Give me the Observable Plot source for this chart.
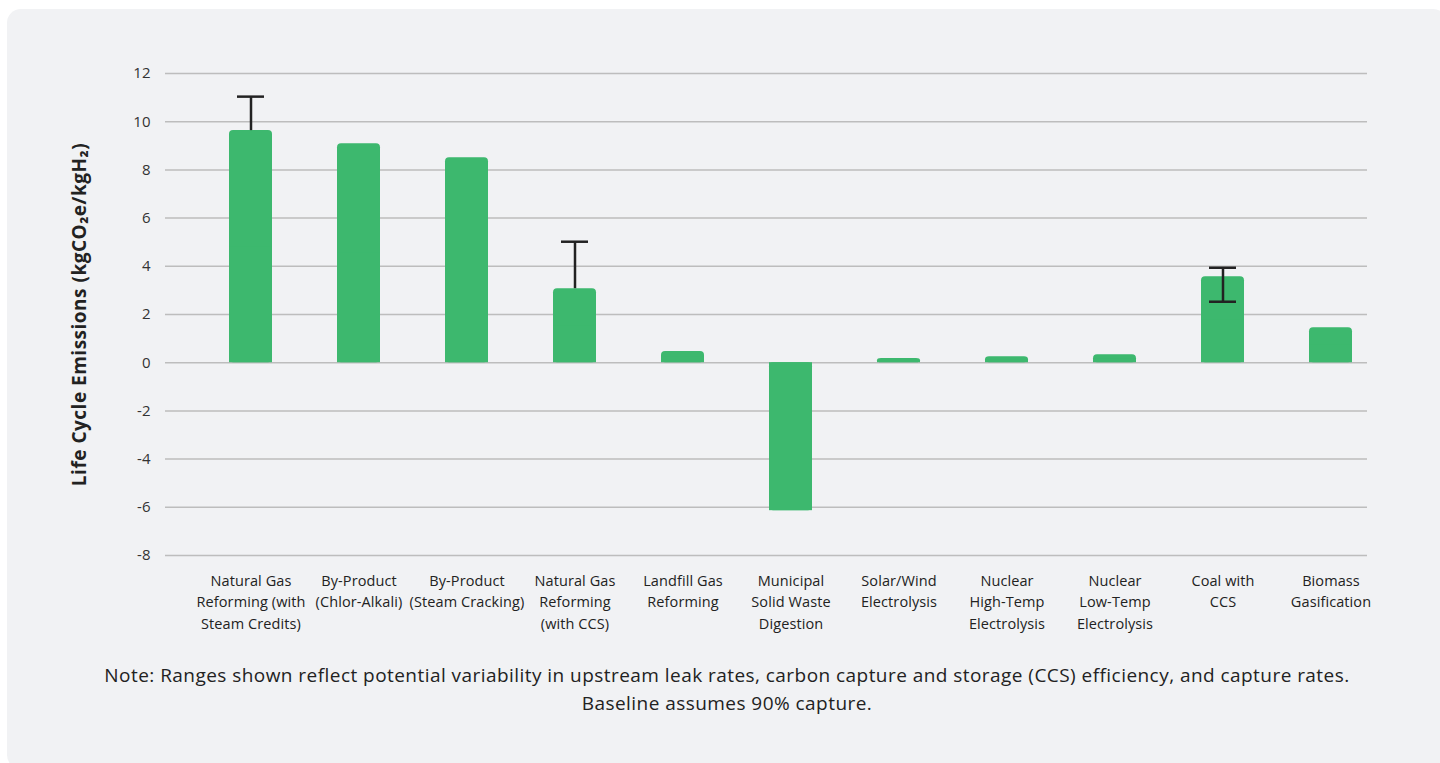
<!DOCTYPE html>
<html>
<head>
<meta charset="utf-8">
<script src="https://cdn.jsdelivr.net/npm/d3@7"></script>
<script src="https://cdn.jsdelivr.net/npm/@observablehq/plot@0.6"></script>
<style>
  html, body { margin: 0; padding: 0; background: #ffffff; }
  body { width: 1440px; height: 763px; overflow: hidden; position: relative; font-family: "Open Sans", sans-serif; }
  #panel { position: absolute; left: 7px; top: 9px; width: 1440px; height: 760px; background: #f1f2f4; border-radius: 14px; }
  #chart { position: absolute; left: 0; top: 0; }
  #chart g[aria-label="x-axis tick label"] text { letter-spacing: 0.1px; }
  #chart g[aria-label="text"] text { letter-spacing: 0.5px; }
  #note { position: absolute; left: 0; top: 661px; width: 1454px; text-align: center; font-size: 19px; letter-spacing: 0.45px; line-height: 28px; color: #222; }
</style>
</head>
<body>
<div id="panel"></div>
<div id="chart"></div>
<div id="note">Note: Ranges shown reflect potential variability in upstream leak rates, carbon capture and storage (CCS) efficiency, and capture rates.<br>Baseline assumes 90% capture.</div>
<script>
const categories = [
  "Natural Gas\nReforming (with\nSteam Credits)",
  "By-Product\n(Chlor-Alkali)",
  "By-Product\n(Steam Cracking)",
  "Natural Gas\nReforming\n(with CCS)",
  "Landfill Gas\nReforming",
  "Municipal\nSolid Waste\nDigestion",
  "Solar/Wind\nElectrolysis",
  "Nuclear\nHigh-Temp\nElectrolysis",
  "Nuclear\nLow-Temp\nElectrolysis",
  "Coal with\nCCS",
  "Biomass\nGasification"
];
const values = [9.63, 9.09, 8.5, 3.07, 0.46, -6.14, 0.17, 0.25, 0.33, 3.57, 1.45];
const errLow = [9.63, null, null, 3.07, null, null, null, null, null, 2.53, null];
const errHigh = [11.04, null, null, 5.02, null, null, null, null, null, 3.94, null];
const yTicks = [-8, -6, -4, -2, 0, 2, 4, 6, 8, 10, 12];
const yLabel = "Life Cycle Emissions (kgCO\u2082e/kgH\u2082)";

const data = categories.map((c, i) => ({cat: c, value: values[i], lo: errLow[i], hi: errHigh[i]}));
const errs = data.filter(d => d.hi != null);
const lowCaps = errs.filter(d => d.lo < d.value);

const green = "#3db86e";
const font = "'Open Sans', sans-serif";
const chart = Plot.plot({
  width: 1440,
  height: 640,
  marginTop: 73,
  marginBottom: 85,
  marginLeft: 165,
  marginRight: 73,
  style: {fontFamily: font, fontSize: "15px", background: "transparent", color: "#333"},
  x: {domain: categories, range: [195, 1387], paddingInner: 0.6, paddingOuter: 0.3, label: null},
  y: {domain: [-8, 12], ticks: yTicks, label: null},
  marks: [
    Plot.gridY(yTicks, {stroke: "#bdbdbd", strokeOpacity: 1, strokeWidth: 1.5}),
    Plot.axisY(yTicks, {tickSize: 0, tickPadding: 15, fontSize: 15, fill: "#333", label: null, tickFormat: d => String(d)}),
    Plot.axisX({tickSize: 0, tickPadding: 15, fontSize: 14.5, fill: "#222", lineHeight: 1.48, label: null}),
    Plot.barY(data, {x: "cat", y: "value", fill: green, rx: 4}),
    Plot.barY(data, {x: "cat", y1: 0, y2: d => d.value > 0 ? d.value / 2 : d.value, fill: green}),
    Plot.ruleX(errs, {x: "cat", y1: "lo", y2: "hi", stroke: "#222", strokeWidth: 2.5}),
    Plot.tickY(errs, {x: "cat", y: "hi", stroke: "#222", strokeWidth: 2.5, inset: 8}),
    Plot.tickY(lowCaps, {x: "cat", y: "lo", stroke: "#222", strokeWidth: 2.5, inset: 8}),
    Plot.text([yLabel], {frameAnchor: "left", textAnchor: "middle", rotate: -90, dx: -86, fontSize: 19, fontWeight: "bold", fill: "#222"})
  ]
});
document.getElementById("chart").appendChild(chart);
</script>
</body>
</html>
